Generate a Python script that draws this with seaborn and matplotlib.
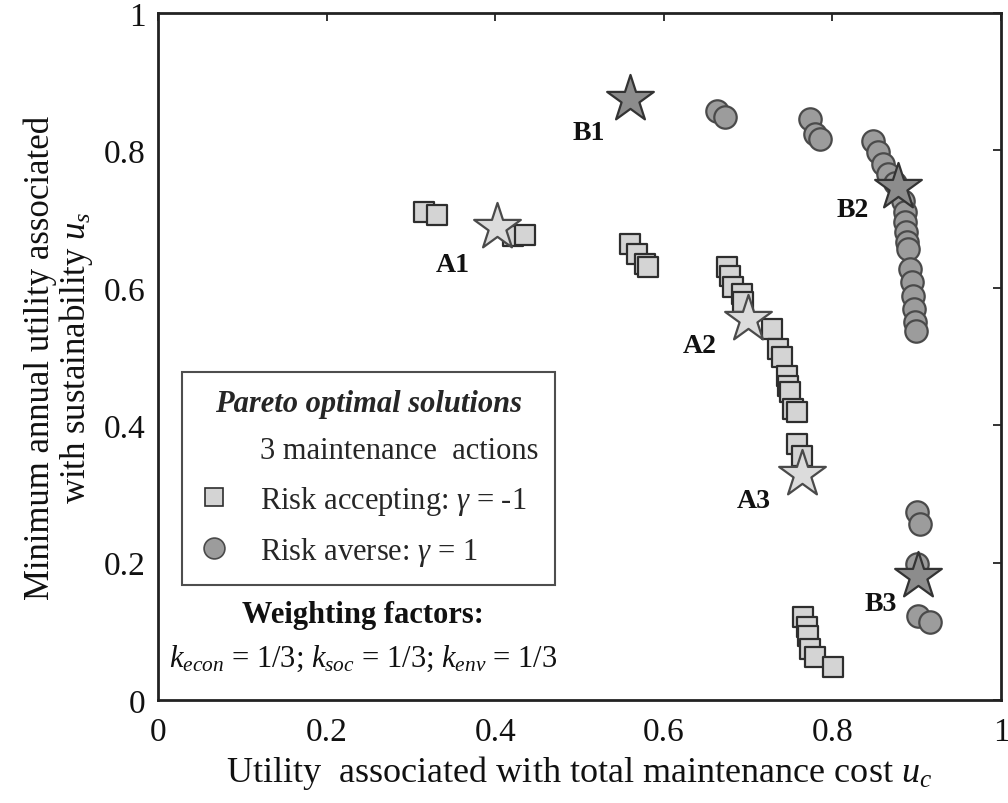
import matplotlib
matplotlib.use("Agg")
import matplotlib.pyplot as plt
import seaborn as sns
import pandas as pd
from matplotlib.lines import Line2D

# ---------------- data ----------------
acc_x = [0.316, 0.331, 0.421, 0.435,
         0.560, 0.568, 0.578, 0.581,
         0.675, 0.679, 0.682, 0.693, 0.694,
         0.728, 0.736, 0.740, 0.746, 0.747, 0.750, 0.753, 0.758,
         0.758, 0.764,
         0.765, 0.770, 0.771, 0.773, 0.779, 0.801]
acc_y = [0.710, 0.706, 0.675, 0.677,
         0.664, 0.649, 0.635, 0.630,
         0.630, 0.617, 0.601, 0.591, 0.579,
         0.540, 0.511, 0.499, 0.472, 0.457, 0.448, 0.424, 0.419,
         0.373, 0.355,
         0.121, 0.106, 0.093, 0.074, 0.063, 0.048]

avr_x = [0.663, 0.673,
         0.773, 0.779, 0.785,
         0.848, 0.854, 0.860, 0.866, 0.874,
         0.884, 0.886, 0.886, 0.887, 0.888, 0.890, 0.892, 0.894, 0.896, 0.897, 0.898, 0.899,
         0.900, 0.904, 0.900, 0.902, 0.916]
avr_y = [0.857, 0.849,
         0.846, 0.824, 0.816,
         0.814, 0.798, 0.780, 0.766, 0.752,
         0.726, 0.710, 0.696, 0.681, 0.667, 0.656, 0.627, 0.608, 0.588, 0.569, 0.550, 0.537,
         0.274, 0.256, 0.198, 0.122, 0.114]

starA_x = [0.402, 0.700, 0.764]
starA_y = [0.688, 0.555, 0.329]
starA_lab = ["A1", "A2", "A3"]
starB_x = [0.560, 0.878, 0.902]
starB_y = [0.875, 0.747, 0.181]
starB_lab = ["B1", "B2", "B3"]

ticks = [0, 0.2, 0.4, 0.6, 0.8, 1.0]
tick_labels = ["0", "0.2", "0.4", "0.6", "0.8", "1"]

# ---------------- style ----------------
sns.set_theme(style="white")
plt.rcParams["font.family"] = ["Liberation Serif", "DejaVu Serif"]
plt.rcParams["mathtext.fontset"] = "custom"
plt.rcParams["mathtext.rm"] = "Liberation Serif"
plt.rcParams["mathtext.it"] = "Liberation Serif:italic"
plt.rcParams["mathtext.bf"] = "Liberation Serif:bold"

fig = plt.figure(figsize=(10.08, 8.04), dpi=100)
ax = fig.add_axes([158 / 1008, 1 - 701 / 804, 843 / 1008, 687 / 804])

df_acc = pd.DataFrame({"x": acc_x, "y": acc_y})
df_avr = pd.DataFrame({"x": avr_x, "y": avr_y})
df_A = pd.DataFrame({"x": starA_x, "y": starA_y, "lab": starA_lab})
df_B = pd.DataFrame({"x": starB_x, "y": starB_y, "lab": starB_lab})

sq_face, sq_edge = "#d4d4d4", "#2e2e2e"
ci_face, ci_edge = "#9c9c9c", "#4a4a4a"

sns.scatterplot(data=df_acc, x="x", y="y", marker="s", s=190,
                color=sq_face, edgecolor=sq_edge, linewidth=1.6, ax=ax, zorder=3)
sns.scatterplot(data=df_avr, x="x", y="y", marker="o", s=260,
                color=ci_face, edgecolor=ci_edge, linewidth=1.6, ax=ax, zorder=3)
sns.scatterplot(data=df_A, x="x", y="y", marker="*", s=1250,
                color="#dcdcdc", edgecolor="#4a4a4a", linewidth=1.6, ax=ax, zorder=4)
sns.scatterplot(data=df_B, x="x", y="y", marker="*", s=1250,
                color="#8c8c8c", edgecolor="#333333", linewidth=1.6, ax=ax, zorder=4)

# point labels (offsets in points from the stars)
offsets = {"A1": (-32, -27), "A2": (-35, -19), "A3": (-35, -19),
           "B1": (-30, -24), "B2": (-33, -16), "B3": (-27, -20)}
for df in (df_A, df_B):
    for _, r in df.iterrows():
        ax.annotate(r["lab"], (r["x"], r["y"]), xytext=offsets[r["lab"]],
                    textcoords="offset points", ha="center", va="center",
                    fontsize=20, fontweight="bold", color="#111111", zorder=5)

ax.set_xlim(0, 1)
ax.set_ylim(0, 1)
ax.set_xticks(ticks)
ax.set_xticklabels(tick_labels)
ax.set_yticks(ticks)
ax.set_yticklabels(tick_labels)
ax.tick_params(direction="in", length=6, width=1.2, labelsize=24, colors="#111111",
               top=True, right=True, pad=9)
ax.tick_params(axis="x", pad=12)
for sp in ax.spines.values():
    sp.set_color("#222222")
    sp.set_linewidth(2)

ax.set_xlabel(r"Utility  associated with total maintenance cost $u_c$", fontsize=26,
              labelpad=4, color="#111111")
ax.set_ylabel("Minimum annual utility associated\n" + r"with sustainability $u_s$",
              fontsize=25, labelpad=6, color="#111111", linespacing=1.0)

# legend
handles = [Line2D([], [], linestyle="none", marker=None),
           Line2D([], [], linestyle="none", marker="s", markersize=13,
                  markerfacecolor=sq_face, markeredgecolor=sq_edge, markeredgewidth=1.2),
           Line2D([], [], linestyle="none", marker="o", markersize=15,
                  markerfacecolor=ci_face, markeredgecolor=ci_edge, markeredgewidth=1.2)]
labels = ["3 maintenance  actions",
          r"Risk accepting: $\gamma$ = -1",
          r"Risk averse: $\gamma$ = 1"]
leg = ax.legend(handles, labels, loc="upper left", bbox_to_anchor=(0.028, 0.477),
                borderaxespad=0,
                title="Pareto optimal solutions", fontsize=22,
                title_fontproperties={"size": 22, "weight": "bold", "style": "italic",
                                      "family": "Liberation Serif"},
                frameon=True, fancybox=False, edgecolor="#222222",
                borderpad=0.55, handlelength=1.0, handletextpad=1.0, labelspacing=0.6)
leg.get_frame().set_linewidth(1.5)
leg.set_zorder(6)

ax.text(0.243, 0.125, "Weighting factors:", transform=ax.transAxes, ha="center",
        va="center", fontsize=22, fontweight="bold", color="#111111")
ax.text(0.243, 0.062,
        r"$k_{econ}$ = 1/3; $k_{soc}$ = 1/3; $k_{env}$ = 1/3",
        transform=ax.transAxes, ha="center", va="center", fontsize=22, color="#111111")

fig.savefig("out.png", dpi=100, facecolor="white")
